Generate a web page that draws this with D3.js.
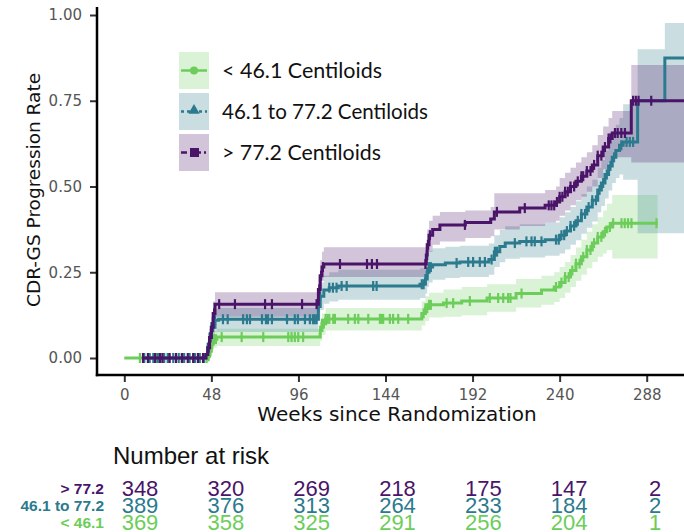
<!DOCTYPE html>
<html><head><meta charset="utf-8">
<script src="https://cdn.jsdelivr.net/npm/d3@7"></script>
<style>html,body{margin:0;padding:0;background:#fff;}</style>
</head><body>
<svg id="chart" width="684" height="532"></svg>
<script>
// ---------- data ----------
const groupNames = ["< 46.1 Centiloids", "46.1 to 77.2 Centiloids", "> 77.2 Centiloids"];
const riskLabels = ["> 77.2", "46.1 to 77.2", "< 46.1"];
const xTicks = [0, 48, 96, 144, 192, 240, 288];
const yTicks = [0, 0.25, 0.5, 0.75, 1];

// < 46.1
const lowT  = [0,46,47,48,49,51,108,109,111,164,166,168,176,186,200,216,230,237,240,243,246,249,252,255,258,261,264,266,269];
const lowE  = [0,0.005,0.02,0.04,0.055,0.061,0.08,0.10,0.114,0.13,0.145,0.155,0.16,0.166,0.175,0.188,0.198,0.207,0.22,0.236,0.255,0.275,0.295,0.315,0.335,0.353,0.368,0.382,0.393];
const lowLo = [0,0,0.005,0.02,0.03,0.035,0.05,0.068,0.08,0.095,0.108,0.118,0.12,0.125,0.135,0.147,0.155,0.163,0.175,0.19,0.207,0.225,0.243,0.262,0.28,0.295,0.305,0.315,0.29];
const lowHi = [0,0.015,0.035,0.06,0.078,0.085,0.11,0.13,0.146,0.165,0.18,0.19,0.2,0.207,0.215,0.23,0.24,0.25,0.265,0.28,0.3,0.322,0.345,0.368,0.39,0.41,0.43,0.45,0.475];
const lowEnd = 294;
const lowCensor = [8.6,17.9,24,31.6,38,41.7,45.4,46.5,47.5,48.5,49.5,50.5,53.7,64.7,76.6,90.4,92.2,94,95.9,98.6,108,109,110,111,112,113,115.2,116.1,123.4,127.1,129,134.5,140.9,141.8,142.7,146.4,148.2,151,156.5,165,166,167,168,169,177.7,181.3,190.5,201.5,206.1,208.9,211.6,212.9,219,238,241,243,245,247,249,251,253,255,257,259,261,263,265,267.7,269.5,274.1,275.9,277.7,279.6,293.4];

// 46.1 to 77.2
const midT  = [10,45,46,47,48,50,52,107,108,110,113,118,163,166,167,168,170,177,185,201,204,207,210,218,232,240,243,246,249,252,255,258,261,263,265,267,269,271,273,275,283,298];
const midE  = [0,0.01,0.03,0.06,0.09,0.11,0.113,0.15,0.18,0.198,0.205,0.21,0.215,0.23,0.25,0.265,0.272,0.277,0.28,0.287,0.31,0.325,0.335,0.34,0.345,0.358,0.37,0.385,0.4,0.42,0.44,0.46,0.49,0.51,0.535,0.56,0.585,0.605,0.62,0.63,0.75,0.875];
const midLo = [0,0,0.01,0.035,0.06,0.075,0.076,0.11,0.14,0.158,0.165,0.17,0.175,0.188,0.207,0.22,0.228,0.233,0.236,0.243,0.265,0.279,0.289,0.293,0.298,0.305,0.316,0.33,0.343,0.362,0.38,0.398,0.425,0.443,0.465,0.488,0.51,0.525,0.535,0.52,0.364,0.364];
const midHi = [0,0.02,0.05,0.085,0.12,0.143,0.146,0.19,0.22,0.24,0.25,0.257,0.262,0.278,0.297,0.313,0.32,0.324,0.327,0.334,0.358,0.373,0.384,0.39,0.395,0.41,0.425,0.44,0.457,0.478,0.5,0.52,0.555,0.577,0.605,0.632,0.66,0.68,0.7,0.74,0.9,0.977];
const midEnd = 312;
const midCensor = [11,14,16,18.5,22,24,27,30,33,36,39,41.5,44,46,47,48,49,50,54.4,57,65.5,67.6,69.3,75.9,78.1,79.2,81.4,89.7,94,95.7,99.6,102.3,104,105,106,107,108,113,115,117,119.8,122.6,137.2,139.1,164,165,166,167,168,169,183.2,189.6,192.3,196,198.8,202.5,204.3,205.5,215.3,221.7,224.5,226.3,230,238,239.5,241,242.5,244,246,248,250,252,254,256,258,260,262,264,266,268,270,274,276.9,278.7,280.5];

// > 77.2
const highT  = [10,45,46,47,48,49,50,107,108,109,110,166.5,167,168,170,174,188,202,204,218,232,238,240,243,246,249,252,255,258,261,264,267,269,279.5];
const highE  = [0,0.01,0.03,0.06,0.09,0.13,0.157,0.20,0.24,0.265,0.274,0.30,0.33,0.358,0.375,0.388,0.395,0.405,0.426,0.437,0.445,0.455,0.47,0.485,0.5,0.515,0.53,0.545,0.563,0.59,0.615,0.64,0.656,0.75];
const highLo = [0,0,0.01,0.035,0.06,0.095,0.12,0.16,0.2,0.225,0.236,0.26,0.285,0.31,0.33,0.34,0.35,0.355,0.375,0.385,0.395,0.4,0.415,0.43,0.445,0.46,0.47,0.485,0.5,0.525,0.55,0.57,0.585,0.57];
const highHi = [0,0.02,0.05,0.085,0.12,0.165,0.192,0.24,0.285,0.31,0.323,0.345,0.375,0.4,0.415,0.426,0.43,0.44,0.48,0.48,0.49,0.5,0.525,0.54,0.555,0.57,0.585,0.6,0.62,0.65,0.675,0.7,0.72,0.854];
const highEnd = 312;
const highCensor = [10.3,13,17,19.7,21,25,28.5,31.8,35,38,40.6,43.4,46.5,47.5,48.5,49.5,52.3,61,77.6,81.4,98,106,107.5,108.5,109.5,118.9,133.8,136.5,139.3,166,166.8,167.5,168.5,187.8,205.4,220.8,234,235.5,237,238.5,240,241.5,243,244.5,246,248,250,252,253,255,257,259,261,263,265,267,268,270.5,272,274,276,280.5,282,283.5,290.5];

// number at risk
const riskTimes = [0, 48, 96, 144, 192, 240, 288];
const riskHigh = [348, 320, 269, 218, 175, 147, 2];
const riskMid  = [389, 376, 313, 264, 233, 184, 2];
const riskLow  = [369, 358, 325, 291, 256, 204, 1];

// ---------- styles ----------
const colLow = "#6ccd5a", colMid = "#2b7a8d", colHigh = "#4a1469";

// ---------- build ----------
const svg = d3.select("#chart");
const x = d3.scaleLinear().domain([0, 288]).range([124.3, 646.7]);
const y = d3.scaleLinear().domain([0, 1]).range([358, 15]);

const groups = [
  {T: lowT, E: lowE, Lo: lowLo, Hi: lowHi, end: lowEnd, cens: lowCensor, col: colLow},
  {T: midT, E: midE, Lo: midLo, Hi: midHi, end: midEnd, cens: midCensor, col: colMid},
  {T: highT, E: highE, Lo: highLo, Hi: highHi, end: highEnd, cens: highCensor, col: colHigh}
];
groups.forEach(g => {
  g.pts = g.T.map((t, i) => ({t, e: g.E[i], lo: g.Lo[i], hi: g.Hi[i]}));
  const last = g.pts[g.pts.length - 1];
  g.pts.push({t: g.end, e: last.e, lo: last.lo, hi: last.hi});
  g.valAt = t => { let v = 0; for (let i = 0; i < g.T.length; i++) if (g.T[i] <= t) v = g.E[i]; return v; };
});

svg.append("defs").append("clipPath").attr("id", "clip")
  .append("rect").attr("x", 98).attr("y", 0).attr("width", 590).attr("height", 374);
const plot = svg.append("g").attr("clip-path", "url(#clip)");

const area = d3.area().curve(d3.curveStepAfter).x(d => x(d.t)).y0(d => y(d.lo)).y1(d => y(d.hi));
const line = d3.line().curve(d3.curveStepAfter).x(d => x(d.t)).y(d => y(d.e));

groups.forEach(g => {
  plot.append("path").attr("d", area(g.pts)).attr("fill", g.col).attr("fill-opacity", 0.25).attr("stroke", "none");
});
groups.forEach(g => {
  plot.append("path").attr("d", line(g.pts)).attr("fill", "none").attr("stroke", g.col).attr("stroke-width", 3);
  plot.append("g").selectAll("line").data(g.cens).join("line")
    .attr("x1", d => x(d)).attr("x2", d => x(d))
    .attr("y1", d => y(g.valAt(d)) - 5).attr("y2", d => y(g.valAt(d)) + 5)
    .attr("stroke", g.col).attr("stroke-width", 2.2);
});

// axes
const yAxis = svg.append("g").attr("transform", "translate(97,0)")
  .call(d3.axisLeft(y).tickValues(yTicks).tickFormat(d3.format(".2f")).tickSize(7).tickPadding(8));
const xAxis = svg.append("g").attr("transform", "translate(0,375)")
  .call(d3.axisBottom(x).tickValues(xTicks).tickFormat(d3.format("d")).tickSize(7).tickPadding(7));
[yAxis, xAxis].forEach(a => {
  a.select(".domain").remove();
  a.selectAll(".tick line").attr("stroke", "#333").attr("stroke-width", 2);
  a.selectAll(".tick text").attr("fill", "#555").style("font-family", "DejaVu Sans").style("font-size", "15px");
});
svg.append("line").attr("x1", 97).attr("x2", 97).attr("y1", 7).attr("y2", 376.2).attr("stroke", "#000").attr("stroke-width", 2.5);
svg.append("line").attr("x1", 95.8).attr("x2", 684).attr("y1", 375).attr("y2", 375).attr("stroke", "#000").attr("stroke-width", 2.5);

svg.append("text").attr("x", 397).attr("y", 421).attr("text-anchor", "middle")
  .style("font-family", "DejaVu Sans").style("font-size", "20px").attr("fill", "#111").text("Weeks since Randomization");
svg.append("text").attr("transform", "translate(40,190) rotate(-90)").attr("text-anchor", "middle")
  .style("font-family", "DejaVu Sans").style("font-size", "18.5px").attr("fill", "#111").text("CDR-GS Progression Rate");

// legend
const legY = [52, 93, 134];
const legW = [160, 206, 159];
const leg = svg.append("g");
groups.forEach((g, i) => {
  const cy = legY[i] + 18.5;
  leg.append("rect").attr("x", 179).attr("y", legY[i]).attr("width", 30).attr("height", 37)
    .attr("fill", g.col).attr("fill-opacity", 0.25);
  const ln = leg.append("line").attr("x1", 181).attr("x2", 207).attr("y1", cy).attr("y2", cy)
    .attr("stroke", g.col).attr("stroke-width", 2.5);
  if (i === 0) {
    leg.append("circle").attr("cx", 194).attr("cy", cy).attr("r", 4).attr("fill", g.col);
  } else if (i === 1) {
    ln.attr("stroke-dasharray", "3,3");
    leg.append("path").attr("d", d3.symbol(d3.symbolTriangle, 55)()).attr("transform", `translate(194,${cy - 1})`).attr("fill", g.col);
  } else {
    ln.attr("stroke-dasharray", "6,3,2,3");
    leg.append("rect").attr("x", 190).attr("y", cy - 4.5).attr("width", 9).attr("height", 9).attr("fill", g.col);
  }
  leg.append("text").attr("x", 222).attr("y", cy + 7).style("font-family", "Lato").style("font-size", "20.5px")
    .attr("textLength", legW[i]).attr("lengthAdjust", "spacingAndGlyphs")
    .attr("fill", "#111").text(groupNames[i]);
});

// risk table
const rx = d3.scaleLinear().domain([0, 288]).range([140, 655]);
svg.append("text").attr("x", 113).attr("y", 464).style("font-family", "Liberation Sans").style("font-size", "24px")
  .attr("fill", "#111").text("Number at risk");
const riskRows = [riskHigh, riskMid, riskLow];
const riskCols = [colHigh, colMid, colLow];
const rowBase = [496, 513, 530];
riskRows.forEach((row, r) => {
  svg.append("text").attr("x", 104).attr("y", rowBase[r] - 2).attr("text-anchor", "end")
    .style("font-family", "Liberation Sans").style("font-weight", "bold").style("font-size", "15.5px")
    .attr("fill", riskCols[r]).text(riskLabels[r]);
  svg.append("g").selectAll("text").data(row).join("text")
    .attr("x", (d, i) => rx(riskTimes[i])).attr("y", rowBase[r]).attr("text-anchor", "middle")
    .style("font-family", "Liberation Sans").style("font-size", "22px").attr("fill", riskCols[r]).text(d => d);
});
</script>
</body></html>
